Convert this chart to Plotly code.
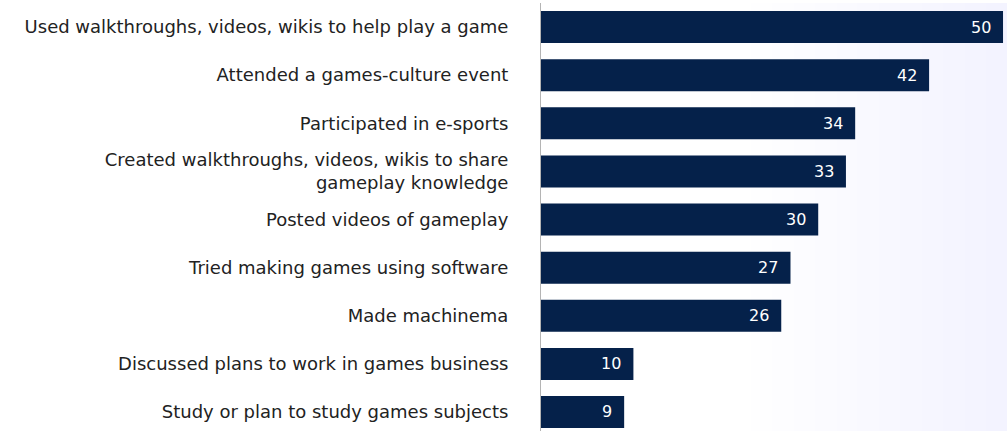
import plotly.graph_objects as go

categories = [
    "Used walkthroughs, videos, wikis to help play a game",
    "Attended a games-culture event",
    "Participated in e-sports",
    "Created walkthroughs, videos, wikis to share<br>gameplay knowledge",
    "Posted videos of gameplay",
    "Tried making games using software",
    "Made machinema",
    "Discussed plans to work in games business",
    "Study or plan to study games subjects",
]
values = [50, 42, 34, 33, 30, 27, 26, 10, 9]

BAR = "#05214a"
FONT = "DejaVu Sans, Noto Sans, sans-serif"

positions = list(range(len(categories)))

fig = go.Figure(
    go.Bar(
        x=values,
        y=positions,
        orientation="h",
        marker=dict(color=BAR, line=dict(width=0)),
        width=0.665,
        hoverinfo="skip",
    )
)

# value labels sitting just inside the end of each bar
for pos, v in zip(positions, values):
    fig.add_annotation(
        x=v, y=pos, xref="x", yref="y",
        text=str(v), showarrow=False,
        xanchor="right", yanchor="middle", xshift=-10,
        font=dict(color="white", size=16, family=FONT),
    )

# soft light-blue wash that deepens toward the right edge
n = 12
for i in range(n):
    x0 = 0.45 + i * (0.55 / n)
    fig.add_shape(
        type="rect", xref="paper", yref="paper",
        x0=x0, x1=1.0, y0=0, y1=1,
        fillcolor="rgba(220,232,250,0.03)", line=dict(width=0),
        layer="below",
    )

fig.update_layout(
    width=1007,
    height=431,
    margin=dict(l=541, r=0, t=3, b=0),
    paper_bgcolor="white",
    plot_bgcolor="rgba(0,0,0,0)",
    showlegend=False,
    font=dict(family=FONT, color="#222222", size=16),
)
fig.update_xaxes(
    range=[0, 50.43], visible=False, fixedrange=True,
)
fig.update_yaxes(
    tickmode="array",
    tickvals=positions,
    ticktext=categories,
    range=[8.395, -0.5],
    showgrid=False,
    zeroline=False,
    showline=True,
    linecolor="#b4b4b4",
    linewidth=1,
    ticks="",
    ticklabelstandoff=28,
    tickfont=dict(size=18, color="#222222", family=FONT),
    fixedrange=True,
)

fig.write_html("out.html")
